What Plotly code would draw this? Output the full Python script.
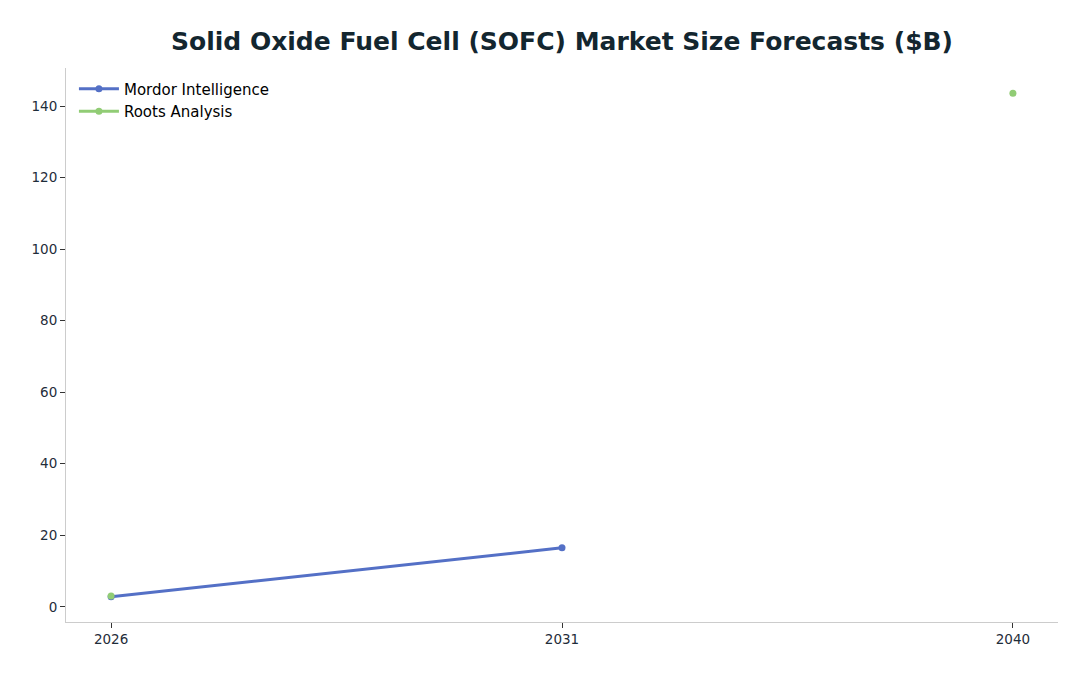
import plotly.graph_objects as go

years = ["2026", "2031", "2040"]
mordor = [2.8, 16.5, None]
roots = [3.0, None, 143.6]

fig = go.Figure()
fig.add_trace(go.Scatter(x=years, y=mordor, name="Mordor Intelligence", mode="lines+markers",
                         line=dict(color="#5470c6", width=3), marker=dict(size=7, color="#5470c6"),
                         connectgaps=False))
fig.add_trace(go.Scatter(x=years, y=roots, name="Roots Analysis", mode="lines+markers",
                         line=dict(color="#91cc75", width=3), marker=dict(size=7, color="#91cc75"),
                         connectgaps=False))

fig.update_layout(
    width=1088, height=676,
    paper_bgcolor="white", plot_bgcolor="white",
    font=dict(family="DejaVu Sans", size=13.5, color="#1f2d3a"),
    title=dict(text="<b>Solid Oxide Fuel Cell (SOFC) Market Size Forecasts ($B)</b>",
               x=(66 + 1058) / 2 / 1088, xanchor="center", y=1 - 41 / 676, yanchor="middle",
               font=dict(size=25, color="#13262f", family="DejaVu Sans")),
    margin=dict(l=66, r=30, t=68, b=54),
    showlegend=True,
    legend=dict(x=0.008, y=0.992, xanchor="left", yanchor="top", bgcolor="rgba(0,0,0,0)",
                font=dict(size=15, color="black"), itemwidth=40),
    xaxis=dict(type="category", range=[-0.1, 2.1], showline=True, linecolor="#cccccc", linewidth=1,
               showgrid=False, zeroline=False, ticks="outside", ticklen=5, tickcolor="#333333",
               tickfont=dict(size=13.5)),
    yaxis=dict(range=[-4.24, 150.64], showline=True, linecolor="#cccccc", linewidth=1,
               showgrid=False, zeroline=False, ticks="outside", ticklen=5, tickcolor="#333333",
               dtick=20, tickfont=dict(size=13.5)),
)
fig.write_html("out.html")
